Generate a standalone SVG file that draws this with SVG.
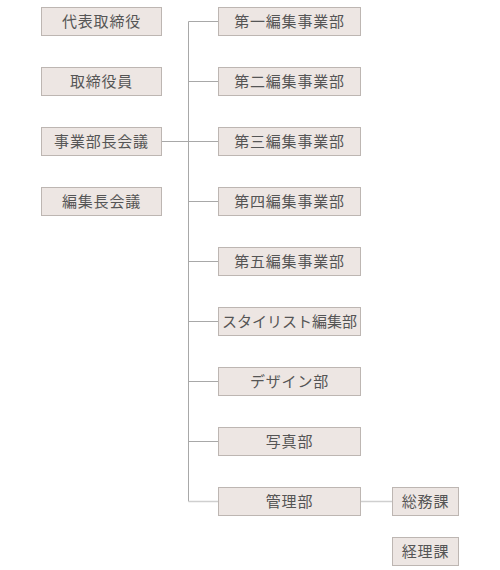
<svg xmlns="http://www.w3.org/2000/svg" width="500" height="570" viewBox="0 0 500 570">
<style>
.box{fill:#ede6e3;stroke:#bdb6b2;stroke-width:1}
.t{font-family:"Noto Sans CJK JP","Noto Sans CJK SC",sans-serif;font-size:15px;fill:#555;text-anchor:middle;letter-spacing:0.8px}
.tight{letter-spacing:0}
.ln{stroke:#a8a8a8;stroke-width:1;fill:none}
.lt{stroke:#cfcfcf;stroke-width:1.5;fill:none}
</style>
<rect width="500" height="570" fill="#fff"/>
<g id="connectors">
<path class="ln" d="M188.5 21.5V501.5"/>
<path class="ln" d="M188.5 21.5H218.5M188.5 81.5H218.5M161.5 141.5H218.5M188.5 201.5H218.5M188.5 261.5H218.5M188.5 321.5H218.5M188.5 381.5H218.5M188.5 441.5H218.5"/>
<path class="lt" d="M188.5 501.5H218.5M360.5 501.5H392.5"/>
</g>
<g id="n_daihyo"><rect class="box" x="41.5" y="7.5" width="120" height="28"/><text class="t" x="101.5" y="27">代表取締役</text></g>
<g id="n_torishimari"><rect class="box" x="41.5" y="67.5" width="120" height="28"/><text class="t" x="101.5" y="87">取締役員</text></g>
<g id="n_jigyobucho"><rect class="box" x="41.5" y="127.5" width="120" height="28"/><text class="t" x="101.5" y="147">事業部長会議</text></g>
<g id="n_henshucho"><rect class="box" x="41.5" y="187.5" width="120" height="28"/><text class="t" x="101.5" y="207">編集長会議</text></g>
<g id="n_dai1"><rect class="box" x="218.5" y="7.5" width="142" height="28"/><text class="t" x="289.5" y="27">第一編集事業部</text></g>
<g id="n_dai2"><rect class="box" x="218.5" y="67.5" width="142" height="28"/><text class="t" x="289.5" y="87">第二編集事業部</text></g>
<g id="n_dai3"><rect class="box" x="218.5" y="127.5" width="142" height="28"/><text class="t" x="289.5" y="147">第三編集事業部</text></g>
<g id="n_dai4"><rect class="box" x="218.5" y="187.5" width="142" height="28"/><text class="t" x="289.5" y="207">第四編集事業部</text></g>
<g id="n_dai5"><rect class="box" x="218.5" y="247.5" width="142" height="28"/><text class="t" x="289.5" y="267">第五編集事業部</text></g>
<g id="n_stylist"><rect class="box" x="218.5" y="307.5" width="142" height="28"/><text class="t tight" x="289.5" y="327">スタイリスト編集部</text></g>
<g id="n_design"><rect class="box" x="218.5" y="367.5" width="142" height="28"/><text class="t" x="289.5" y="387">デザイン部</text></g>
<g id="n_shashin"><rect class="box" x="218.5" y="427.5" width="142" height="28"/><text class="t" x="289.5" y="447">写真部</text></g>
<g id="n_kanri"><rect class="box" x="218.5" y="487.5" width="142" height="28"/><text class="t" x="289.5" y="507">管理部</text></g>
<g id="n_somu"><rect class="box" x="392.5" y="487.5" width="66" height="28"/><text class="t" x="425.5" y="507">総務課</text></g>
<g id="n_keiri"><rect class="box" x="392.5" y="537.5" width="66" height="28"/><text class="t" x="425.5" y="557">経理課</text></g>
</svg>
